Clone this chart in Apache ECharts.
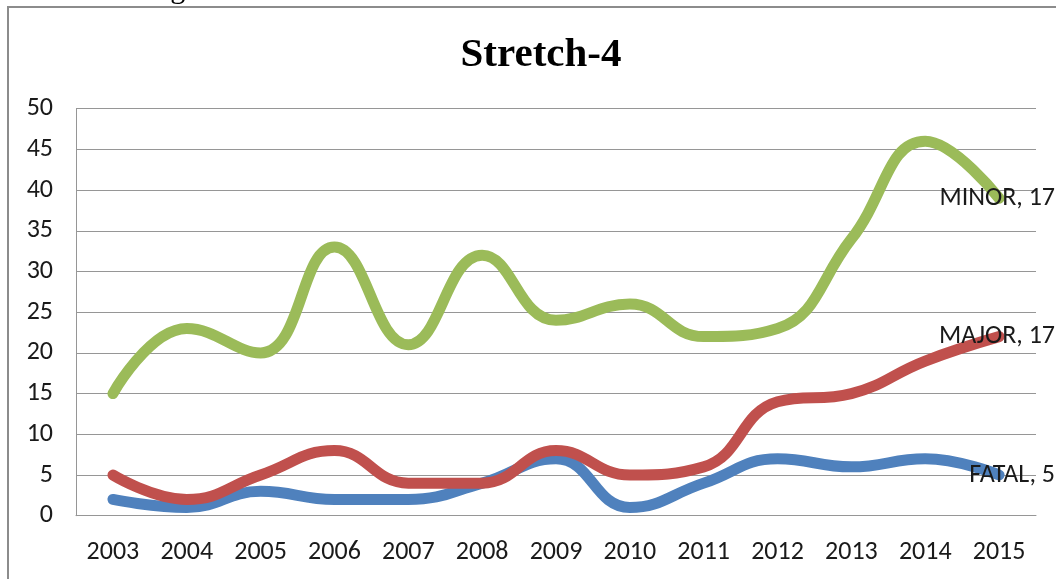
<!DOCTYPE html>
<html>
<head>
<meta charset="utf-8">
<script src="https://cdn.jsdelivr.net/npm/echarts@6/dist/echarts.min.js"></script>
<style>
  html, body { margin: 0; padding: 0; background: #fff; }
  #main { width: 1056px; height: 579px; }
</style>
</head>
<body>
<div id="main"></div>
<script>
// years on the x axis
var years = ['2003', '2004', '2005', '2006', '2007', '2008', '2009', '2010', '2011', '2012', '2013', '2014', '2015'];
// accident counts per year (stacked in the chart)
var fatal = [2, 1, 3, 2, 2, 4, 7, 1, 4, 7, 6, 7, 5];
var major = [3, 1, 2, 6, 2, 0, 1, 4, 2, 7, 9, 12, 17];
var minor = [10, 21, 15, 25, 17, 28, 16, 21, 16, 9, 19, 27, 17];

var lastIdx = years.length - 1;
var font = 'Carlito, "Liberation Sans", sans-serif';

function endLabel(params) {
    if (params.dataIndex !== lastIdx) return '';
    return params.seriesName + ', ' + params.value;
}

function makeSeries(name, data, color) {
    return {
        name: name,
        type: 'line',
        stack: 'Total',
        smooth: 0.45,
        showSymbol: true,
        symbol: 'circle',
        symbolSize: 0.1,
        data: data,
        lineStyle: { color: color, width: 11, cap: 'round', join: 'round' },
        itemStyle: { color: color },
        label: {
            show: true,
            position: 'left',
            distance: 0,
            offset: [56, 0],
            formatter: endLabel,
            color: '#1a1a1a',
            fontFamily: font,
            fontSize: 26
        },
        emphasis: { disabled: true }
    };
}

var chart = echarts.init(document.getElementById('main'));

var option = {
    animation: false,
    title: {
        text: 'Stretch-4',
        left: 536,
        top: 30,
        textAlign: 'center',
        textStyle: {
            fontFamily: '"Liberation Serif", "Times New Roman", serif',
            fontWeight: 'bold',
            fontSize: 41,
            color: '#000'
        }
    },
    graphic: [
        {
            type: 'text',
            left: 62,
            top: -25,
            style: {
                text: 'increasing order.',
                fontFamily: '"Liberation Serif", serif',
                fontSize: 30,
                fill: '#000'
            }
        },
        {
            type: 'polyline',
            shape: { points: [[8, 579], [8, 7], [1056, 7]] },
            style: { stroke: '#8c8c8c', lineWidth: 2, fill: null }
        }
    ],
    grid: {
        left: 76,
        right: 20,
        top: 108.7,
        bottom: 63.3
    },
    xAxis: {
        type: 'category',
        data: years,
        boundaryGap: true,
        axisLine: { show: true, lineStyle: { color: '#969696', width: 1 } },
        axisTick: { show: false },
        axisLabel: {
            margin: 24,
            color: '#1a1a1a',
            fontFamily: font,
            fontSize: 26
        }
    },
    yAxis: {
        type: 'value',
        min: 0,
        max: 50,
        interval: 5,
        axisLine: { show: true, lineStyle: { color: '#969696', width: 1 } },
        axisTick: { show: false },
        splitLine: { lineStyle: { color: '#969696', width: 1 } },
        axisLabel: {
            margin: 23,
            color: '#1a1a1a',
            fontFamily: font,
            fontSize: 26
        }
    },
    series: [
        makeSeries('FATAL', fatal, '#4F81BD'),
        makeSeries('MAJOR', major, '#C0504D'),
        makeSeries('MINOR', minor, '#9BBB59')
    ]
};

chart.setOption(option);
</script>
</body>
</html>
